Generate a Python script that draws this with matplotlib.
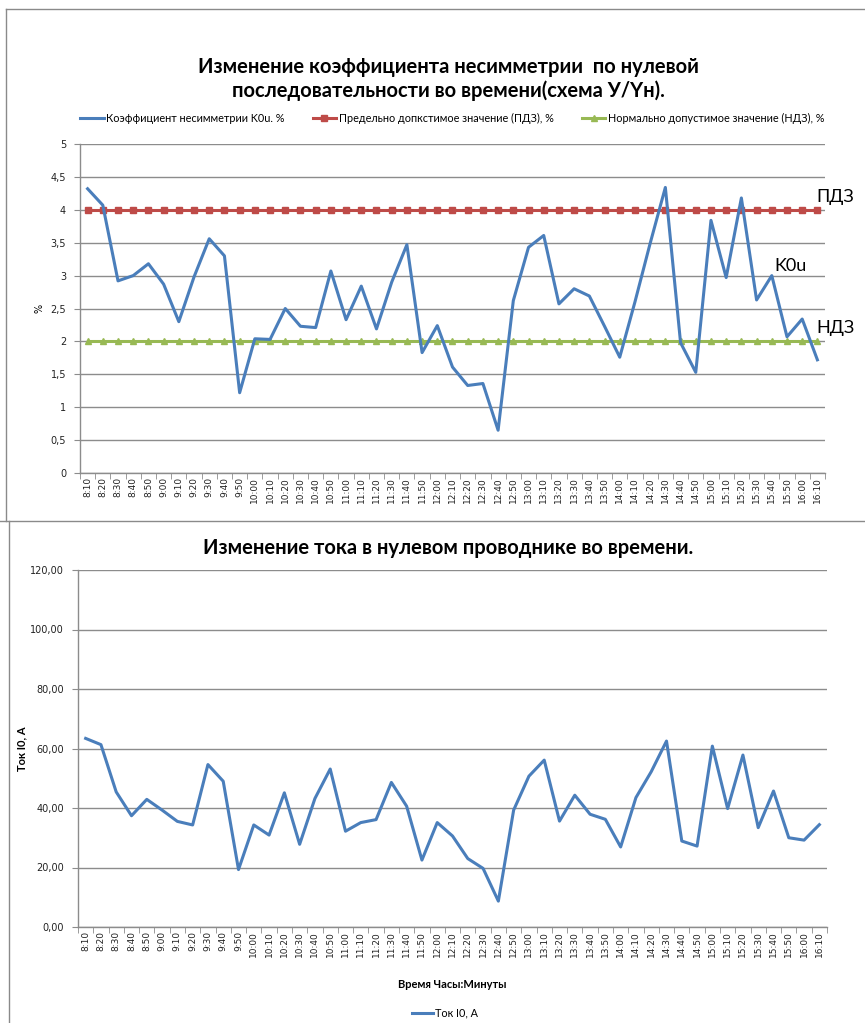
import matplotlib
matplotlib.use("Agg")
import matplotlib.pyplot as plt
from matplotlib.lines import Line2D
from matplotlib.ticker import FuncFormatter, FixedLocator

# время измерений 8:10 ... 16:10 через 10 минут
times = ['8:10', '8:20', '8:30', '8:40', '8:50', '9:00', '9:10', '9:20', '9:30', '9:40', '9:50',
         '10:00', '10:10', '10:20', '10:30', '10:40', '10:50', '11:00', '11:10', '11:20', '11:30',
         '11:40', '11:50', '12:00', '12:10', '12:20', '12:30', '12:40', '12:50', '13:00', '13:10',
         '13:20', '13:30', '13:40', '13:50', '14:00', '14:10', '14:20', '14:30', '14:40', '14:50',
         '15:00', '15:10', '15:20', '15:30', '15:40', '15:50', '16:00', '16:10']

# коэффициент несимметрии K0u, %
k0u = [4.32, 4.07, 2.92, 3.00, 3.18, 2.87, 2.30, 2.98, 3.56, 3.30, 1.22,
       2.04, 2.03, 2.50, 2.23, 2.21, 3.07, 2.33, 2.84, 2.19, 2.90,
       3.47, 1.83, 2.24, 1.61, 1.33, 1.36, 0.65, 2.62, 3.43, 3.61,
       2.57, 2.80, 2.69, 2.23, 1.76, 2.60, 3.49, 4.34, 1.98, 1.53,
       3.84, 2.97, 4.18, 2.63, 3.00, 2.07, 2.34, 1.72]
pdz = [4.0] * len(times)
ndz = [2.0] * len(times)

# ток в нулевом проводнике, А
i0 = [63.4, 61.3, 45.4, 37.4, 42.9, 39.3, 35.5, 34.3, 54.6, 49.0, 19.3,
      34.3, 30.9, 45.1, 27.8, 43.2, 53.1, 32.2, 35.1, 36.1, 48.6,
      40.6, 22.5, 35.1, 30.6, 23.0, 19.7, 8.7, 39.3, 50.7, 56.1,
      35.6, 44.3, 37.9, 36.2, 26.9, 43.5, 52.2, 62.5, 28.9, 27.2,
      60.8, 39.8, 57.8, 33.4, 45.7, 30.0, 29.2, 34.4]

blue = '#4A7EBB'
red = '#BE4B48'
green = '#98B954'
grid_c = '#8C8C8C'
txt_font = ['Lato', 'DejaVu Sans']
tick_font = ['DejaVu Sans']

W, H = 865, 1023
fig = plt.figure(figsize=(W / 100, H / 100), dpi=100)


def fx(px):
    return px / W


def fy(py):
    return 1 - py / H


def style_axes(ax, ymax, ystep, fmt):
    n = len(times)
    x = list(range(n))
    ax.set_xlim(-0.5, n - 0.5)
    ax.set_ylim(0, ymax)
    ax.xaxis.set_major_locator(FixedLocator(x))
    ax.set_xticklabels(times, rotation=90, fontsize=6.5, family=tick_font, color='#222222')
    ax.xaxis.set_minor_locator(FixedLocator([k - 0.5 for k in range(n + 1)]))
    ax.tick_params(axis='x', which='major', length=0, pad=3)
    ax.tick_params(axis='x', which='minor', length=4, color=grid_c)
    ticks = []
    v = 0.0
    while v <= ymax + 1e-9:
        ticks.append(v)
        v += ystep
    ax.yaxis.set_major_locator(FixedLocator(ticks))
    ax.yaxis.set_major_formatter(FuncFormatter(fmt))
    ax.tick_params(axis='y', length=4, color=grid_c, labelsize=7, labelcolor='#222222', pad=6)
    for lab in ax.get_yticklabels():
        lab.set_family(tick_font)
    ax.grid(axis='y', color=grid_c, lw=1)
    ax.set_axisbelow(True)
    for s in ['top', 'right']:
        ax.spines[s].set_visible(False)
    for s in ['left', 'bottom']:
        ax.spines[s].set_color(grid_c)
        ax.spines[s].set_linewidth(1)


def fmt_top(v, pos):
    if abs(v - round(v)) < 1e-9:
        return '%d' % round(v)
    return ('%.1f' % v).replace('.', ',')


def fmt_bot(v, pos):
    return ('%.2f' % v).replace('.', ',')


x = list(range(len(times)))

# ---------- верхний график ----------
ax1 = fig.add_axes([fx(80), fy(473), fx(825 - 80), (473 - 144) / H])
ax1.plot(x, k0u, color=blue, lw=2.2, label='Коэффициент несимметрии K0u. %', zorder=4)
ax1.plot(x, pdz, color=red, lw=2.2, marker='s', ms=5, label='Предельно допкстимое значение (ПДЗ), %', zorder=3)
ax1.plot(x, ndz, color=green, lw=2.2, marker='^', ms=5, label='Нормально допустимое значение (НДЗ), %', zorder=3)
style_axes(ax1, 5, 0.5, fmt_top)
ax1.set_ylabel('%', fontsize=7, family=tick_font, labelpad=4)

fig.text(fx(448), fy(67), 'Изменение коэффициента несимметрии  по нулевой',
         ha='center', va='center', fontsize=14.5, weight='bold', family=txt_font)
fig.text(fx(448), fy(91), 'последовательности во времени(схема У/Yн).',
         ha='center', va='center', fontsize=14.5, weight='bold', family=txt_font)

leg = fig.legend(loc='center', bbox_to_anchor=(fx(452), fy(118)), ncol=3, frameon=False,
                 prop={'family': txt_font, 'size': 7.8}, handlelength=2.2,
                 columnspacing=2.6, handletextpad=0.2, markerscale=0.8)

fig.text(fx(816), fy(197), 'ПДЗ', ha='left', va='center', fontsize=13, family=txt_font)
fig.text(fx(774), fy(266), 'K0u', ha='left', va='center', fontsize=13, family=txt_font)
fig.text(fx(816), fy(328), 'НДЗ', ha='left', va='center', fontsize=13, family=txt_font)

# ---------- нижний график ----------
ax2 = fig.add_axes([fx(78), fy(927), fx(827 - 78), (927 - 570) / H])
ax2.plot(x, i0, color=blue, lw=2.2, label='Ток I0, А')
style_axes(ax2, 120, 20, fmt_bot)
ax2.set_ylabel('Ток I0, А', fontsize=8, weight='bold', family=txt_font, labelpad=2)
ax2.set_xlabel('Время Часы:Минуты', fontsize=8, weight='bold', family=txt_font, labelpad=16)

fig.text(fx(448), fy(548), 'Изменение тока в нулевом проводнике во времени.',
         ha='center', va='center', fontsize=14.5, weight='bold', family=txt_font)

fig.legend(handles=[Line2D([0], [0], color=blue, lw=2.2)], labels=['Ток I0, А'],
           loc='center', bbox_to_anchor=(fx(445), fy(1013)), frameon=False,
           prop={'family': txt_font, 'size': 7.8}, handlelength=2.0, handletextpad=0.2)

# рамки диаграмм
frame_c = '#8A8A8A'
fig.add_artist(Line2D([fx(6), fx(865)], [fy(9), fy(9)], color=frame_c, lw=1))
fig.add_artist(Line2D([fx(6), fx(6)], [fy(9), fy(521)], color=frame_c, lw=1))
fig.add_artist(Line2D([fx(0), fx(865)], [fy(521), fy(521)], color=frame_c, lw=1))
fig.add_artist(Line2D([fx(9), fx(9)], [fy(521), fy(1023)], color=frame_c, lw=1))

fig.savefig('out.png', dpi=100)
